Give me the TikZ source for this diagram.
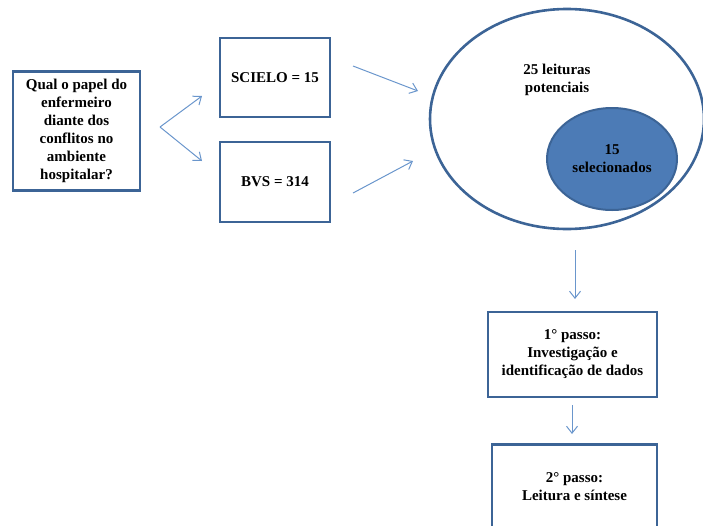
\documentclass[tikz,border=0pt]{standalone}
\usepackage{fontspec}
\setmainfont{Liberation Serif}
\usetikzlibrary{shapes.geometric,arrows.meta}
\definecolor{boxline}{HTML}{3C6496}
\definecolor{arrline}{HTML}{6A96CC}
\definecolor{fillblue}{HTML}{4C7BB6}
\begin{document}
\begin{tikzpicture}[x=1pt,y=-1pt,
  box/.style={draw=boxline,line width=2.6pt,fill=white,align=center,inner sep=2pt,
    font=\fontsize{15}{18}\selectfont\bfseries},
  arr/.style={draw=arrline,line width=1pt,-{Straight Barb[length=7pt,width=11pt]}},
  txt/.style={align=center,font=\fontsize{15}{18}\selectfont\bfseries}]
\clip (0,0) rectangle (703,525);
\useasboundingbox (0,0) rectangle (703,525);
\node[box,minimum width=127pt,minimum height=119pt] (q) at (76.5,131)
  {Qual o papel do\\enfermeiro\\diante dos\\conflitos no\\ambiente\\hospitalar?};
\node[box,minimum width=110pt,minimum height=79pt] (sc) at (275,77.5) {SCIELO = 15};
\node[box,minimum width=110pt,minimum height=80pt] (bvs) at (275,182) {BVS = 314};
\node[ellipse,draw=boxline,line width=2.6pt,minimum width=274pt,minimum height=220pt,inner sep=0pt] (big) at (567,119) {};
\node[txt] (pot) at (557,80) {25 leituras\\potenciais};
\node[ellipse,draw=boxline,line width=2pt,fill=fillblue,minimum width=130pt,minimum height=102pt,inner sep=0pt,txt] (sel) at (612,159) {15\\selecionados};
\node[box,minimum width=169pt,minimum height=85pt] (s1) at (572.5,354.5) {1° passo:\\Investigação e\\identificação de dados};
\node[box,minimum width=165pt,minimum height=100pt,anchor=north] (s2) at (574.5,443) {};
\node[txt] (s2t) at (574.5,487) {2° passo:\\Leitura e síntese};
\coordinate (v) at (160,127);
\coordinate (t1) at (202,96);
\coordinate (t2) at (202,161);
\draw[arr] (v) -- (t1);
\draw[arr] (v) -- (t2);
\coordinate (a1s) at (353,66);
\coordinate (a1e) at (418,91);
\coordinate (a2s) at (353,193);
\coordinate (a2e) at (413,161);
\draw[arr] (a1s) -- (a1e);
\draw[arr] (a2s) -- (a2e);
\coordinate (d1s) at (575,250);
\coordinate (d1e) at (575,299);
\draw[arr] (d1s) -- (d1e);
\coordinate (d2s) at (572,405);
\coordinate (d2e) at (572,434);
\draw[arr] (d2s) -- (d2e);
\end{tikzpicture}
\end{document}
